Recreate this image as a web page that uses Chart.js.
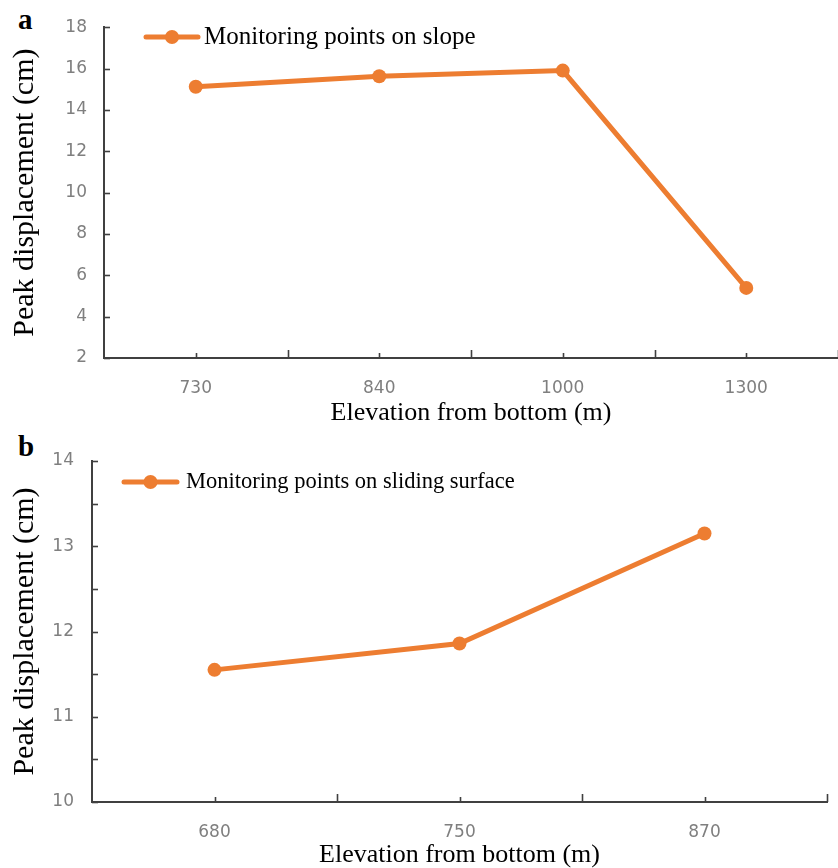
<!DOCTYPE html>
<html>
<head>
<meta charset="utf-8">
<script src="https://cdn.jsdelivr.net/npm/chart.js@4.4.1/dist/chart.umd.min.js"></script>
<style>
  html, body { margin: 0; padding: 0; background: #fff; width: 838px; height: 868px; overflow: hidden; position: relative; }
  canvas { position: absolute; left: 0; }
  .panel { position: absolute; font-family: "Liberation Serif", "Times New Roman", serif; font-weight: bold; font-size: 29px; line-height: 1; color: #000; }
</style>
</head>
<body>
<div class="panel" style="left:18px; top:5px;">a</div>
<div class="panel" style="left:18px; top:432px;">b</div>
<canvas id="chartA" width="845" height="432" style="top:0px;"></canvas>
<canvas id="chartB" width="838" height="436" style="top:432px;"></canvas>
<script>
// ---- Data ----
const categoriesA = ['730', '840', '1000', '1300'];
const valuesA = [15.12, 15.63, 15.9, 5.39];
const labelA = 'Monitoring points on slope';
const yTicksA = [2, 4, 6, 8, 10, 12, 14, 16, 18];

const categoriesB = ['680', '750', '870'];
const valuesB = [11.55, 11.86, 13.15];
const labelB = 'Monitoring points on sliding surface';
const yTicksB = [10, 11, 12, 13, 14];

const yTitle = 'Peak displacement (cm)';
const xTitle = 'Elevation from bottom (m)';

// ---- Styles ----
const ORANGE = '#ED7D31';
const AXIS = '#404040';
const TICKTXT = '#7f7f7f';
const SERIF = '"Liberation Serif", "Times New Roman", serif';
const SANS = '"DejaVu Sans", sans-serif';

const lineLegend = {
  id: 'lineLegend',
  afterDraw(chart, args, opts) {
    const ctx = chart.ctx;
    const ds = chart.data.datasets[0];
    ctx.save();
    ctx.strokeStyle = ds.borderColor;
    ctx.lineWidth = ds.borderWidth;
    ctx.lineCap = 'round';
    ctx.beginPath();
    ctx.moveTo(opts.x1, opts.y);
    ctx.lineTo(opts.x2, opts.y);
    ctx.stroke();
    ctx.fillStyle = ds.pointBackgroundColor;
    ctx.beginPath();
    ctx.arc((opts.x1 + opts.x2) / 2, opts.y, ds.pointRadius, 0, Math.PI * 2);
    ctx.fill();
    ctx.fillStyle = '#000';
    ctx.font = opts.font;
    ctx.textBaseline = 'alphabetic';
    ctx.textAlign = 'left';
    ctx.fillText(ds.label, opts.tx, opts.ty);
    ctx.restore();
  }
};

const axisTicks = {
  id: 'axisTicks',
  afterDatasetsDraw(chart, args, opts) {
    const { ctx, chartArea } = chart;
    const x = chart.scales.x, y = chart.scales.y;
    ctx.save();
    ctx.strokeStyle = AXIS;
    ctx.lineWidth = 1.6;
    // y ticks, pointing inward
    for (let v = y.min; v <= y.max + 1e-9; v += opts.yStep) {
      const py = Math.round(y.getPixelForValue(v)) + 0.5;
      ctx.beginPath();
      ctx.moveTo(chartArea.left, py);
      ctx.lineTo(chartArea.left + opts.yLen, py);
      ctx.stroke();
    }
    // x ticks: short at categories, taller at category boundaries
    const n = chart.data.labels.length;
    const step = x.getPixelForValue(1) - x.getPixelForValue(0);
    const by = chartArea.bottom;
    for (let i = 0; i < n; i++) {
      const px = Math.round(x.getPixelForValue(i)) + 0.5;
      ctx.beginPath(); ctx.moveTo(px, by); ctx.lineTo(px, by - opts.shortLen); ctx.stroke();
      const pb = Math.round(x.getPixelForValue(i) + step / 2) + 0.5;
      ctx.beginPath(); ctx.moveTo(pb, by); ctx.lineTo(pb, by - opts.longLen); ctx.stroke();
    }
    ctx.restore();
  }
};

function makeChart(id, cats, vals, label, yMin, yMax, yStep, cfg) {
  return new Chart(document.getElementById(id), {
    type: 'line',
    data: {
      labels: cats,
      datasets: [{
        label: label,
        data: vals,
        borderColor: ORANGE,
        backgroundColor: ORANGE,
        pointBackgroundColor: ORANGE,
        pointBorderColor: ORANGE,
        borderWidth: 5,
        pointRadius: 7,
        pointBorderWidth: 0,
        tension: 0,
        fill: false
      }]
    },
    options: {
      responsive: false,
      animation: false,
      events: [],
      layout: { padding: { top: cfg.top, right: cfg.right, left: 0, bottom: 0 } },
      plugins: {
        legend: { display: false },
        tooltip: { enabled: false },
        lineLegend: cfg.legend,
        axisTicks: { yStep: cfg.tickStep, yLen: 6, shortLen: 5, longLen: 8 }
      },
      scales: {
        x: {
          type: 'category',
          offset: true,
          grid: { display: false, drawTicks: false },
          border: { display: true, color: AXIS, width: 2 },
          ticks: { color: TICKTXT, font: { family: SANS, size: 17 }, padding: cfg.xPad, maxRotation: 0 },
          title: { display: true, text: xTitle, color: '#000', font: { family: SERIF, size: 26, lineHeight: 1 }, padding: { top: 0, bottom: cfg.xTitlePad } },
          afterFit: (s) => { s.height = cfg.xHeight; }
        },
        y: {
          min: yMin, max: yMax,
          grid: { display: false, drawTicks: false },
          border: { display: true, color: AXIS, width: 2 },
          ticks: { stepSize: yStep, color: TICKTXT, font: { family: SANS, size: 17 }, padding: cfg.yPad },
          title: { display: true, text: yTitle, color: '#000', font: { family: SERIF, size: 30, lineHeight: 1 }, padding: { top: cfg.yTitlePad, bottom: 0 } },
          afterFit: (s) => { s.width = cfg.yWidth; }
        }
      }
    },
    plugins: [lineLegend, axisTicks]
  });
}

makeChart('chartA', categoriesA, valuesA, labelA, yTicksA[0], yTicksA[yTicksA.length - 1], yTicksA[1] - yTicksA[0], {
  top: 21, right: 2, xHeight: 74, yWidth: 104, xPad: 20, yPad: 17, xTitlePad: 6, yTitlePad: 10, tickStep: 2,
  legend: { x1: 146, x2: 198, y: 37, tx: 204, ty: 44, font: '25px ' + SERIF }
});

makeChart('chartB', categoriesB, valuesB, labelB, yTicksB[0], yTicksB[yTicksB.length - 1], yTicksB[1] - yTicksB[0], {
  top: 29, right: 11, xHeight: 66, yWidth: 92, xPad: 20, yPad: 18, xTitlePad: 0, yTitlePad: 10, tickStep: 0.5,
  legend: { x1: 124, x2: 177, y: 50, tx: 186, ty: 56, font: '22.5px ' + SERIF }
});
</script>
</body>
</html>
